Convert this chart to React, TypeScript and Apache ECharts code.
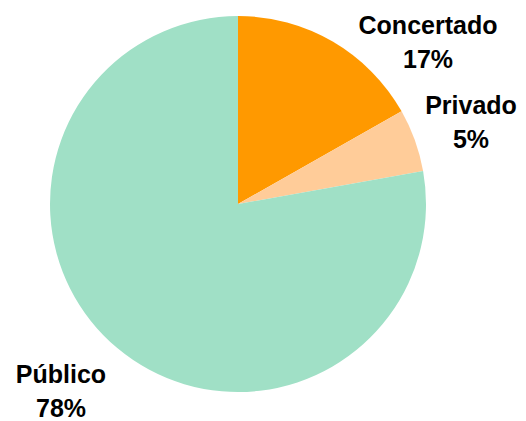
import React, { useEffect, useRef } from "react";
import * as echarts from "echarts";

const categories = ["Concertado", "Privado", "Público"];
const values = [16.8, 5.4, 77.8];
const colors = ["#FF9900", "#FFCC99", "#A0E0C6"];

// label anchor positions (pixels) for each slice label
const labelPos: [number, number][] = [
  [428, 42],
  [471, 122],
  [61, 391],
];

export default function App() {
  const ref = useRef<HTMLDivElement>(null);
  useEffect(() => {
    document.body.style.margin = "0";
    const chart = echarts.init(ref.current!, null, { renderer: "svg" });
    chart.setOption({
      animation: false,
      backgroundColor: "#ffffff",
      series: [
        {
          type: "pie",
          center: [238, 204],
          radius: [0, 188],
          startAngle: 90,
          clockwise: true,
          silent: true,
          data: categories.map((c, i) => ({
            name: c,
            value: values[i],
            itemStyle: { color: colors[i] },
          })),
          label: {
            show: true,
            position: "outside",
            formatter: (p: any) => `${p.name}\n${Math.round(p.percent)}%`,
            fontFamily: "Liberation Sans, Arial, sans-serif",
            fontWeight: "bold",
            fontSize: 25,
            lineHeight: 34,
            color: "#000000",
            align: "center",
            overflow: "none",
            width: 200,
          },
          labelLine: { show: false },
          labelLayout: (params: any) => {
            const pos = labelPos[params.dataIndex];
            return {
              x: pos[0],
              y: pos[1],
              align: "center",
              verticalAlign: "middle",
              width: 200,
            };
          },
        },
      ],
    });
    return () => chart.dispose();
  }, []);
  return <div ref={ref} style={{ width: 526, height: 421 }} />;
}
